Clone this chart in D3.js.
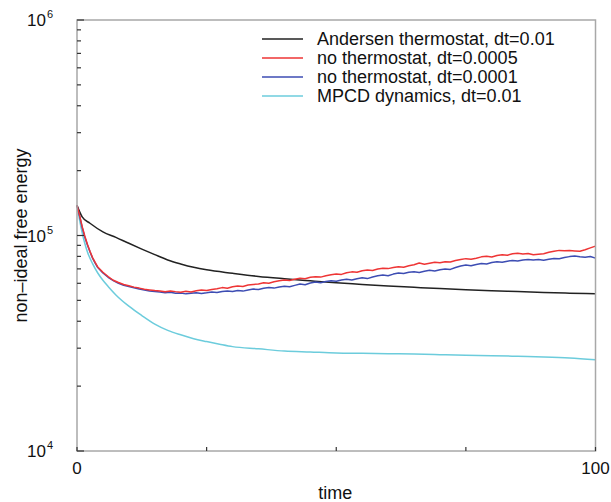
<!DOCTYPE html>
<html>
<head>
<meta charset="utf-8">
<script src="https://cdn.jsdelivr.net/npm/d3@7"></script>
<style>
  body { margin: 0; background: #fff; }
  svg text { font-family: "Liberation Sans", Arial, Helvetica, sans-serif; fill: #111; }
</style>
</head>
<body>
<svg id="chart"></svg>
<script>
const width = 611, height = 502;
const margin = {left: 77, right: 15, top: 20, bottom: 51};

// series names for the legend
const seriesNames = ["Andersen thermostat, dt=0.01", "no thermostat, dt=0.0005",
                     "no thermostat, dt=0.0001", "MPCD dynamics, dt=0.01"];
const seriesColors = ["#222222", "#ee3535", "#3d4db3", "#6cccdc"];

const xTicks = [0, 25, 50, 75, 100];
const xTickLabels = ["0", "", "", "", "100"];
const yDecades = [1e4, 1e5, 1e6];

// Andersen thermostat (smooth)
const tBlack = [0, 1, 2.5, 5, 7.5, 10, 12.5, 15, 17.5, 20, 22.5, 25, 30, 35, 40, 45, 50, 55, 60, 65, 70, 75, 80, 85, 90, 95, 100];
const vBlack = [138000, 122000, 114000, 104000, 98000, 92000, 86500, 81500, 77000, 73800, 71200, 69300, 66800, 64600, 63000,
                61600, 60300, 59300, 58300, 57500, 56700, 56000, 55400, 54900, 54400, 54000, 53700];

// MPCD dynamics
const tCyan = [0, 0.5, 1, 1.5, 2, 3, 4, 5, 6, 7.5, 10, 12.5, 15, 17.5, 20, 22.5, 25, 27.5, 30, 35, 40, 45, 50, 55, 60, 65, 70, 75, 80, 85, 90, 95, 100];
const vCyan = [138000, 118000, 103000, 92000, 84000, 74000, 67000, 62000, 58000, 53000, 47000, 42500, 38800, 36300, 34600,
               33200, 32200, 31300, 30500, 29800, 29100, 28800, 28500, 28400, 28300, 28200, 28000, 27800, 27700, 27500,
               27300, 27000, 26500];

// no thermostat runs, sampled densely
const tDense = [0, 0.5, 1, 1.5, 2, 2.5, 3, 3.5, 4, 5, 6, 7, 8, 9, 10, 11, 12, 13, 14, 15,
  16, 17, 18, 19, 20, 21, 22, 23, 24, 25, 26, 27, 28, 29, 30, 31, 32, 33, 34, 35, 36, 37, 38, 39, 40,
  41, 42, 43, 44, 45, 46, 47, 48, 49, 50, 51, 52, 53, 54, 55, 56, 57, 58, 59, 60,
  61, 62, 63, 64, 65, 66, 67, 68, 69, 70, 71, 72, 73, 74, 75, 76, 77, 78, 79, 80,
  81, 82, 83, 84, 85, 86, 87, 88, 89, 90, 91, 92, 93, 94, 95, 96, 97, 98, 99, 100];

const vRed = [138000, 124000, 110000, 99500, 91000, 84500, 79000, 75000, 71500, 67500, 64500, 62000, 60500, 59200, 58400,
  57600, 57000, 56300, 55900, 55500,
  55200, 54800, 55300, 54900, 54600, 55100, 54700, 55400, 55800, 55500, 56200, 56600, 57300, 56900, 57800,
  58300, 58000, 58900, 59300, 59600, 60400, 60100, 61000, 61600, 62100, 61800, 62600, 63300, 63000, 64000,
  64400, 64100, 65000, 65700, 66300, 66000, 67200, 67800, 67500, 68600, 69100, 68800, 69900, 70500, 70200,
  71000, 71600, 71300, 72400, 73200, 74600, 73500, 74300, 75200, 74800, 75600, 75300, 76500, 77400, 78100,
  77600, 78500, 79600, 80200, 79500, 80800, 81400, 81000, 82200, 82700, 82100, 82500, 81400, 81900, 82300,
  83600, 84600, 85300, 84900, 85200, 84800, 84500, 85900, 87600, 89300];

const vBlue = [138000, 123000, 109000, 98500, 90500, 84000, 78500, 74500, 71000, 67000, 64000, 61800, 60000, 58800, 58000,
  57200, 56500, 55900, 55300, 55000,
  54700, 54300, 54500, 53900, 54100, 53600, 54000, 54300, 53800, 54200, 54700, 54400, 55000, 55300, 55000,
  55600, 55200, 55900, 56400, 56100, 56900, 57300, 57000, 57700, 58200, 57800, 58700, 59500, 59100, 60200,
  60800, 60400, 61200, 61700, 61300, 62100, 62600, 62200, 63000, 63600, 63100, 64200, 65000, 65500, 65100,
  66200, 67000, 66600, 67500, 67900, 67400, 68300, 68900, 68500, 69400, 69900, 69600, 71000, 72200, 72900,
  72400, 73400, 74200, 73800, 74900, 75500, 75100, 76000, 76600, 76200, 77000, 77400, 76900, 77300, 76800,
  77500, 78300, 78000, 79100, 79800, 80300, 79700, 79300, 79900, 78500];

const series = [
  {t: tBlack, v: vBlack, smooth: true},
  {t: tDense, v: vRed, smooth: false},
  {t: tDense, v: vBlue, smooth: false},
  {t: tCyan, v: vCyan, smooth: true}
];

const svg = d3.select("#chart").attr("width", width).attr("height", height);

const x = d3.scaleLinear().domain([0, 100]).range([margin.left, width - margin.right - 0.5]);
const y = d3.scaleLog().domain([1e4, 1e6]).range([height - margin.bottom, margin.top]);

// minor log ticks
let minor = [];
[1e4, 1e5].forEach(d => { for (let k = 2; k <= 9; k++) minor.push(d * k); });

const plot = svg.append("g");

// draw curves (order: cyan, black, blue, red on top)
const drawOrder = [3, 0, 2, 1];
drawOrder.forEach(i => {
  const s = series[i];
  const pts = s.t.map((t, j) => [t, s.v[j]]);
  const line = d3.line()
    .x(d => x(d[0]))
    .y(d => y(d[1]))
    .curve(s.smooth ? d3.curveMonotoneX : d3.curveLinear);
  plot.append("path")
    .datum(pts)
    .attr("d", line)
    .attr("fill", "none")
    .attr("stroke", seriesColors[i])
    .attr("stroke-width", 1.5)
    .attr("stroke-linejoin", "round");
});

// frame
svg.append("rect")
  .attr("x", x(0)).attr("y", y(1e6))
  .attr("width", x(100) - x(0)).attr("height", y(1e4) - y(1e6))
  .attr("fill", "none")
  .attr("stroke", "#a8a8a8")
  .attr("stroke-width", 1.5);

// y ticks (inside)
svg.append("g").selectAll("line").data(minor).join("line")
  .attr("x1", x(0)).attr("x2", x(0) + 4)
  .attr("y1", d => y(d)).attr("y2", d => y(d))
  .attr("stroke", "#333").attr("stroke-width", 1.2);
svg.append("g").selectAll("line").data(yDecades).join("line")
  .attr("x1", x(0)).attr("x2", x(0) + 7)
  .attr("y1", d => y(d)).attr("y2", d => y(d))
  .attr("stroke", "#333").attr("stroke-width", 1.2);

// x ticks (inside)
svg.append("g").selectAll("line").data(xTicks).join("line")
  .attr("x1", d => x(d)).attr("x2", d => x(d))
  .attr("y1", y(1e4)).attr("y2", y(1e4) - 4)
  .attr("stroke", "#333").attr("stroke-width", 1.2);

// x tick labels
svg.append("g").selectAll("text").data(xTicks).join("text")
  .attr("x", d => x(d))
  .attr("y", y(1e4) + 23)
  .attr("text-anchor", "middle")
  .style("font-size", "17px")
  .text((d, i) => xTickLabels[i]);

// y tick labels 10^n
const yl = svg.append("g").selectAll("text").data(yDecades).join("text")
  .attr("x", 53)
  .attr("y", d => y(d) + 6)
  .attr("text-anchor", "end")
  .style("font-size", "17px");
yl.append("tspan").text("10");
yl.append("tspan")
  .attr("dy", -8)
  .attr("dx", 1)
  .style("font-size", "11px")
  .text(d => Math.round(Math.log10(d)));

// axis titles
svg.append("text")
  .attr("x", (x(0) + x(100)) / 2 - 1)
  .attr("y", 499)
  .attr("text-anchor", "middle")
  .style("font-size", "18px")
  .text("time");

svg.append("text")
  .attr("transform", `translate(27,${y(1e5)}) rotate(-90)`)
  .attr("text-anchor", "middle")
  .style("font-size", "18px")
  .text("non\u2013ideal free energy");

// legend
const legend = svg.append("g");
seriesNames.forEach((name, i) => {
  const ly = 39 + i * 19;
  legend.append("line")
    .attr("x1", 262).attr("x2", 303)
    .attr("y1", ly).attr("y2", ly)
    .attr("stroke", seriesColors[i])
    .attr("stroke-width", 1.3);
  legend.append("text")
    .attr("x", 317)
    .attr("y", ly + 6)
    .style("font-size", "18px")
    .text(name);
});
</script>
</body>
</html>
